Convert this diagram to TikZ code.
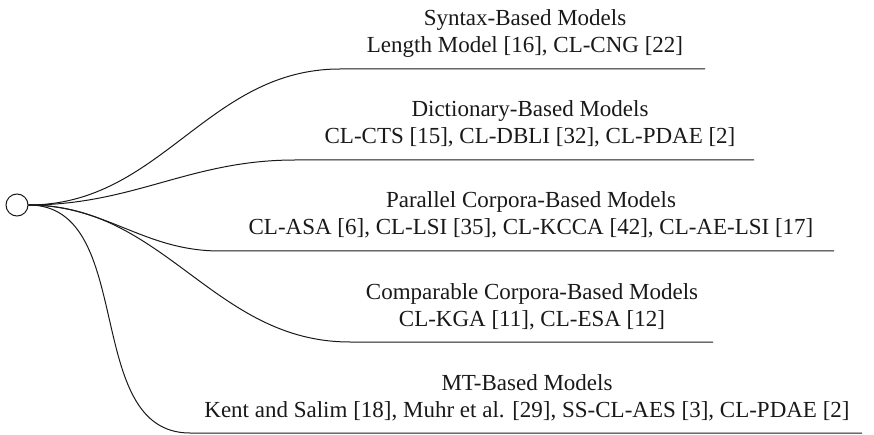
\documentclass[tikz,border=0pt]{standalone}
\usepackage{fontspec}
\setmainfont{Liberation Serif}
\begin{document}
\begin{tikzpicture}[x=1pt,y=-1pt,
  branch/.style={line width=1pt, black!90},
  lbl/.style={inner sep=0pt, anchor=base, font=\fontsize{23}{27}\selectfont, text=black!90}]
\useasboundingbox (0,0) rectangle (874,435);
\node[draw, circle, minimum size=22pt, inner sep=0pt, line width=1pt, black!90] (root) at (17,205) {};
% line start / end coordinates
\coordinate (s1) at (340,69);  \coordinate (e1) at (705,69);
\coordinate (s2) at (295,160); \coordinate (e2) at (754,160);
\coordinate (s3) at (220,251); \coordinate (e3) at (834,251);
\coordinate (s4) at (350,342); \coordinate (e4) at (713,342);
\coordinate (s5) at (190,433); \coordinate (e5) at (862,433);
\foreach \i in {1,...,5}{
  \draw[branch] (root.east) to[out=0,in=180] (s\i) -- (e\i);
}
\node[lbl] (r1) at (525,53) {Length Model [16], CL-CNG [22]};
\node[lbl] (t1) at (525,26) {Syntax-Based Models};
\node[lbl] (r2) at (530,144) {CL-CTS [15], CL-DBLI [32], CL-PDAE [2]};
\node[lbl] (t2) at (530,117) {Dictionary-Based Models};
\node[lbl] (r3) at (531,235) {CL-ASA [6], CL-LSI [35], CL-KCCA [42], CL-AE-LSI [17]};
\node[lbl] (t3) at (531,208) {Parallel Corpora-Based Models};
\node[lbl] (r4) at (532,326) {CL-KGA [11], CL-ESA [12]};
\node[lbl] (t4) at (532,299) {Comparable Corpora-Based Models};
\node[lbl] (r5) at (527,417) {Kent and Salim [18], Muhr et al. [29], SS-CL-AES [3], CL-PDAE [2]};
\node[lbl] (t5) at (527,390) {MT-Based Models};
\end{tikzpicture}
\end{document}
